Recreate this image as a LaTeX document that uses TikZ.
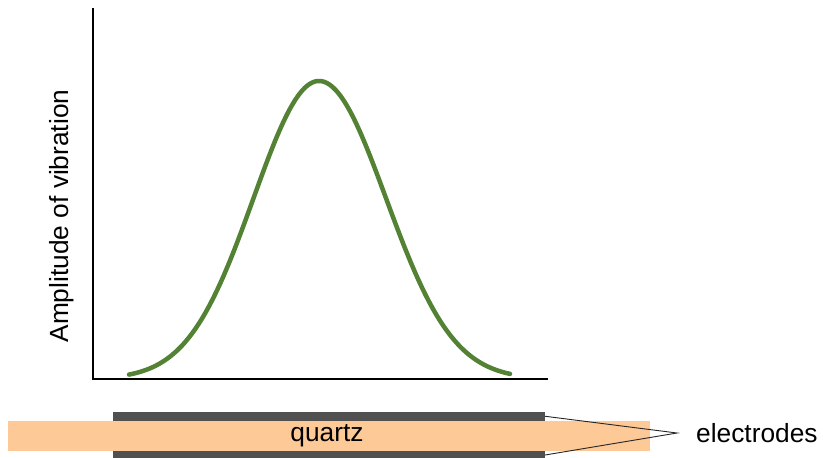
\documentclass[tikz,border=0pt]{standalone}
\usepackage{fontspec}
\setmainfont{Liberation Sans}
\definecolor{curvegreen}{RGB}{84,130,53}
\definecolor{quartzfill}{RGB}{253,201,150}
\definecolor{electrodegray}{RGB}{80,80,80}
\begin{document}
\begin{tikzpicture}[x=1pt,y=-1pt,
  lbl/.style={font=\fontsize{26.3}{30}\selectfont, inner sep=0pt},
  plate/.style={inner sep=0pt, outer sep=0pt, draw=none},
  axisline/.style={line width=2pt, black},
  leader/.style={line width=0.9pt, black!85}]
\useasboundingbox (0,0) rectangle (823,458);
% axes
\coordinate (ytop) at (93,8);
\coordinate (orig) at (93,379);
\coordinate (xend) at (548,379);
\draw[axisline] (ytop) -- (orig) -- (xend);
% y label
\node[lbl, rotate=90] (ylab) at (62,216) {Amplitude of vibration};
% curve
\draw[curvegreen, line width=4.5pt, line cap=round, line join=round]
  plot[domain=129:319, samples=80, smooth] (\x, {379-298*exp(-((\x-319)/65.5)^2/2)})
  -- plot[domain=319:510, samples=80, smooth] (\x, {379-298*exp(-((\x-319)/67)^2/2)});
% quartz and electrodes
\node[plate, fill=quartzfill, minimum width=642pt, minimum height=30pt, anchor=north west] (quartz) at (8,421) {};
\node[plate, fill=electrodegray, minimum width=432pt, minimum height=8.5pt, anchor=north west] (etop) at (113,412) {};
\node[plate, fill=electrodegray, minimum width=432pt, minimum height=8pt, anchor=north west] (ebot) at (113,451) {};
\node[lbl] (qlab) at (327,436) {quartz};
\coordinate (apex) at (677,433);
\draw[leader] (etop.east) -- (apex) -- (ebot.east);
\node[lbl, anchor=west] (elab) at (696,433) {electrodes};
\end{tikzpicture}
\end{document}
